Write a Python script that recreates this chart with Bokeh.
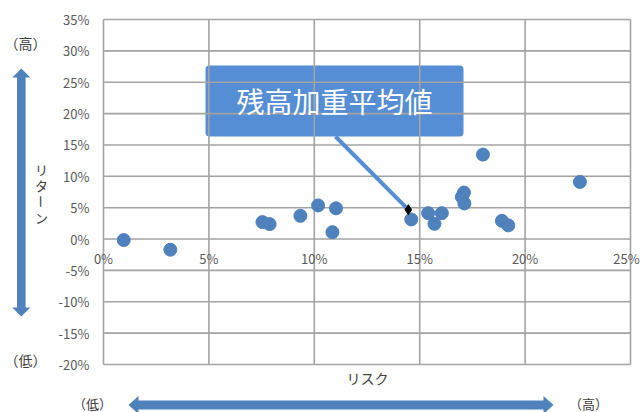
from bokeh.plotting import figure
from bokeh.models import BoxAnnotation, Range1d
from bokeh.core.properties import value
from bokeh.embed import file_html
from bokeh.resources import INLINE

# ---- data ----
risk = [0.0096, 0.0317, 0.0754, 0.0788, 0.0934, 0.1018, 0.1103, 0.1086,
        0.1460, 0.1540, 0.1570, 0.1605, 0.1700, 0.1710, 0.1712, 0.1800,
        0.1890, 0.1920, 0.2260]
ret = [-0.0016, -0.0170, 0.0270, 0.0238, 0.0370, 0.0536, 0.0490, 0.0110,
       0.0313, 0.0413, 0.0243, 0.0413, 0.0672, 0.0742, 0.0568, 0.1347,
       0.0291, 0.0218, 0.0910]
avg_risk = [0.1446]
avg_ret = [0.0468]
x_ticks = [0.0, 0.05, 0.10, 0.15, 0.20, 0.25]
x_tick_labels = ["0%", "5%", "10%", "15%", "20%", "25%"]
y_ticks = [-0.20, -0.15, -0.10, -0.05, 0.0, 0.05, 0.10, 0.15, 0.20, 0.25, 0.30, 0.35]
y_tick_labels = ["-20%", "-15%", "-10%", "-5%", "0%", "5%", "10%", "15%",
                 "20%", "25%", "30%", "35%"]
callout_text = "残高加重平均値"
x_title = "リスク"
y_title = ["リ", "タ", "ー", "ン"]
high_label = "（高）"
low_label = "（低）"

X0, X1 = 0.0, 0.25
Y0, Y1 = -0.20, 0.35

# plot-area geometry in canvas pixels
W, H = 640, 412
FL, FR, FT, FB = 103, 630, 19, 364

def X(px):
    return X0 + (px - FL) / (FR - FL) * (X1 - X0)

def Y(py):
    return Y1 - (py - FT) / (FB - FT) * (Y1 - Y0)

BLUE = "#4F81BD"
BOX = "#558ED5"
GRID = "#A3A3A3"
TXT = "#595959"
DARK = "#404040"
FONT = "Noto Sans CJK JP"

p = figure(width=W, height=H, x_range=Range1d(X(0), X(W)), y_range=Range1d(Y(H), Y(0)),
           output_backend="svg", toolbar_location=None,
           min_border=0, min_border_left=0, min_border_right=0,
           min_border_top=0, min_border_bottom=0)
p.axis.visible = False
p.grid.visible = False
p.outline_line_color = None
p.background_fill_color = "white"
p.border_fill_color = "white"

# grid lines (incl. border)
p.segment(x0=x_ticks, y0=[Y0] * len(x_ticks), x1=x_ticks, y1=[Y1] * len(x_ticks),
          line_color=GRID, line_width=1.6)
p.segment(x0=[X0] * len(y_ticks), y0=y_ticks, x1=[X1] * len(y_ticks), y1=y_ticks,
          line_color=GRID, line_width=1.6)

# tick labels
p.text(x=[X0] * len(y_ticks), y=y_ticks, text=y_tick_labels, x_offset=-14,
       text_align="right", text_baseline="middle", text_font=value(FONT),
       text_font_size="13px", text_color=TXT)
x_lab_shift = [0] * (len(x_ticks) - 1) + [-4]
p.text(x=x_ticks, y=[0.0] * len(x_ticks), text=x_tick_labels, y_offset=19,
       x_offset=x_lab_shift,
       text_align="center", text_baseline="middle", text_font=value(FONT),
       text_font_size="13px", text_color=TXT)

# callout box
bx0, bx1, by0, by1 = X(205), X(463), Y(136), Y(65)
p.add_layout(BoxAnnotation(left=bx0, right=bx1, bottom=by0, top=by1,
                           fill_color=BOX, fill_alpha=1.0, line_alpha=0,
                           border_radius=4, level="underlay"))
p.text(x=[(bx0 + bx1) / 2], y=[(by0 + by1) / 2], text=[callout_text],
       text_align="center", text_baseline="middle", text_font=value(FONT),
       text_font_size="28px", text_color="white")

# data points
p.scatter(risk, ret, size=13, color=BLUE)
# callout pointer
p.segment(x0=[X(335)], y0=[by0], x1=avg_risk, y1=avg_ret, line_color=BOX, line_width=4)
p.scatter(avg_risk, avg_ret, marker="diamond", size=10, color="black")

# outer labels
def lab(px, py, text, size="14px", angle=0.0):
    p.text(x=[X(px)], y=[Y(py)], text=[text], angle=angle, text_align="center",
           text_baseline="middle", text_font=value(FONT), text_font_size=size,
           text_color=DARK)

lab(25, 42, high_label)
lab(25, 359, low_label)
lab(92, 403, low_label, "13px")
lab(588, 403, high_label, "13px")
lab(367, 377, x_title)
for i, ch in enumerate(y_title):
    ang = -1.5708 if ch == "ー" else 0.0
    lab(41, 169 + i * 16, ch, "13px", ang)

# double arrows
def varrow(cx, top, bot, hw=4.3, hh=9, hl=9):
    xs = [cx, cx + hh, cx + hw, cx + hw, cx + hh, cx, cx - hh, cx - hw, cx - hw, cx - hh]
    ys = [top, top + hl, top + hl, bot - hl, bot - hl, bot, bot - hl, bot - hl, top + hl, top + hl]
    p.patch([X(v) for v in xs], [Y(v) for v in ys], color=BLUE, line_width=0)

def harrow(cy, left, right, hw=4.5, hh=9, hl=10):
    xs = [left, left + hl, left + hl, right - hl, right - hl, right, right - hl, right - hl, left + hl, left + hl]
    ys = [cy, cy - hh, cy - hw, cy - hw, cy - hh, cy, cy + hh, cy + hw, cy + hw, cy + hh]
    p.patch([X(v) for v in xs], [Y(v) for v in ys], color=BLUE, line_width=0)

varrow(20.8, 68, 316)
harrow(404.5, 128, 553)

open("out.html", "w").write(file_html(p, INLINE))
